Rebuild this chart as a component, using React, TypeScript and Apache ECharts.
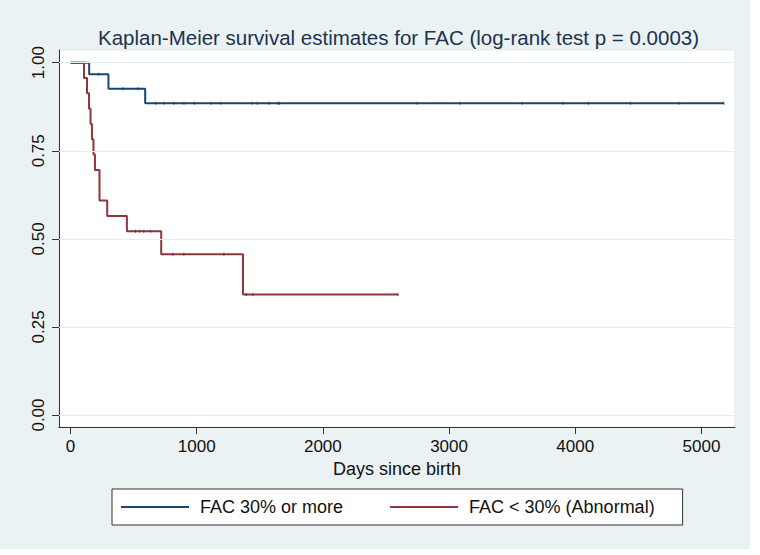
import React, { useEffect, useRef } from "react";
import * as echarts from "echarts";

const titleText = "Kaplan-Meier survival estimates for FAC (log-rank test p = 0.0003)";
const xAxisName = "Days since birth";
const xTicks = [0, 1000, 2000, 3000, 4000, 5000];
const yTicks = [0, 0.25, 0.5, 0.75, 1];

const blueName = "FAC 30% or more";
const blueTimes = [0, 148, 301, 592, 5178];
const blueSurv = [1, 0.967, 0.926, 0.885, 0.885];
const blueCensor = [224, 415, 534, 674, 740, 819, 899, 983, 1116, 1190, 1438, 1481, 1573, 1644, 1657, 2746, 3085, 3579, 3904, 4105, 4438, 4822, 5178];

const redName = "FAC < 30% (Abnormal)";
const redTimes = [0, 107, 131, 147, 159, 170, 182, 194, 230, 291, 447, 719, 1367, 2596];
const redSurv = [1, 0.9565, 0.913, 0.8696, 0.8261, 0.7826, 0.7391, 0.6957, 0.6087, 0.5652, 0.5217, 0.4565, 0.3424, 0.3424];
const redCensor = [515, 547, 581, 634, 811, 899, 1216, 1393, 1446, 2596];

const BLUE = "#1a476f";
const RED = "#90353b";
const BG = "#eaf2f3";
const FONT = "Liberation Sans, Arial, Helvetica, sans-serif";

function survAt(times: number[], surv: number[], t: number): number {
  let s = surv[0];
  for (let i = 0; i < times.length; i++) {
    if (times[i] <= t) s = surv[i];
  }
  return s;
}

export default function App() {
  const ref = useRef<HTMLDivElement>(null);
  useEffect(() => {
    if (!ref.current) return;
    const chart = echarts.init(ref.current, undefined, { renderer: "svg" });
    const blueLine = blueTimes.map((t, i) => [t, blueSurv[i]]);
    const redLine = redTimes.map((t, i) => [t, redSurv[i]]);
    const blueMarks = blueCensor.map((t) => [t, survAt(blueTimes, blueSurv, t)]);
    const redMarks = redCensor.map((t) => [t, survAt(redTimes, redSurv, t)]);
    chart.setOption({
      animation: false,
      backgroundColor: "#ffffff",
      textStyle: { fontFamily: FONT },
      graphic: [
        {
          type: "rect",
          z: -10,
          silent: true,
          shape: { x: 0, y: 0, width: 750, height: 549 },
          style: { fill: BG },
        },
      ],
      title: {
        text: titleText,
        left: 96,
        top: 25,
        padding: 2,
        textStyle: { fontSize: 20.5, fontWeight: "normal", color: "#1c3350", fontFamily: FONT },
      },
      grid: {
        left: 59,
        right: 25,
        top: 50,
        bottom: 128,
        show: true,
        backgroundColor: "#ffffff",
        borderColor: "#e2e8ea",
        borderWidth: 1,
      },
      legend: {
        left: 112,
        top: 489,
        orient: "horizontal",
        data: [blueName, redName],
        icon: "rect",
        itemWidth: 68,
        itemHeight: 2,
        itemGap: 47,
        padding: [9, 28, 9, 9],
        backgroundColor: "#ffffff",
        borderColor: "#333333",
        borderWidth: 1,
        textStyle: { fontSize: 18, color: "#111", fontFamily: FONT, padding: [0, 0, 0, 6] },
      },
      xAxis: {
        type: "value",
        min: -91,
        max: 5266,
        name: xAxisName,
        nameLocation: "middle",
        nameGap: 33,
        nameTextStyle: { fontSize: 18, color: "#111", fontFamily: FONT },
        axisLine: { show: true, onZero: false, lineStyle: { color: "#333", width: 1 } },
        axisTick: { show: true, length: 7, customValues: xTicks, lineStyle: { color: "#333" } },
        axisLabel: {
          customValues: xTicks,
          fontSize: 17,
          color: "#111",
          margin: 11,
          fontFamily: FONT,
          formatter: (v: number) => String(v),
        },
        splitLine: { show: false },
      },
      yAxis: {
        type: "value",
        min: -0.034,
        max: 1.036,
        axisLine: { show: true, onZero: false, lineStyle: { color: "#333", width: 1 } },
        axisTick: { show: true, length: 7, customValues: yTicks, lineStyle: { color: "#333" } },
        axisLabel: {
          customValues: yTicks,
          rotate: 90,
          fontSize: 17,
          color: "#111",
          margin: 12,
          fontFamily: FONT,
          formatter: (v: number) => v.toFixed(2),
        },
        splitLine: { show: false },
      },
      series: [
        {
          name: "grid",
          type: "line",
          data: [],
          z: 1,
          silent: true,
          markLine: {
            silent: true,
            symbol: "none",
            label: { show: false },
            lineStyle: { color: "#e6edef", width: 1, type: "solid" },
            data: yTicks.map((v) => ({ yAxis: v })),
          },
        },
        {
          name: blueName,
          type: "line",
          step: "end",
          data: blueLine,
          showSymbol: false,
          symbol: "none",
          lineStyle: { color: BLUE, width: 2 },
          itemStyle: { color: BLUE },
          z: 3,
        },
        {
          name: redName,
          type: "line",
          step: "end",
          data: redLine,
          showSymbol: false,
          symbol: "none",
          lineStyle: { color: RED, width: 2 },
          itemStyle: { color: RED },
          z: 4,
        },
        {
          name: "blueCensor",
          type: "scatter",
          data: blueMarks,
          symbol: "rect",
          symbolSize: [1, 3],
          itemStyle: { color: "#13324f" },
          z: 5,
        },
        {
          name: "redCensor",
          type: "scatter",
          data: redMarks,
          symbol: "rect",
          symbolSize: [1, 3],
          itemStyle: { color: "#5e2226" },
          z: 5,
        },
      ],
    });
    return () => chart.dispose();
  }, []);
  return (
    <div
      ref={ref}
      style={{ position: "fixed", left: 0, top: 0, width: 760, height: 555 }}
    />
  );
}
